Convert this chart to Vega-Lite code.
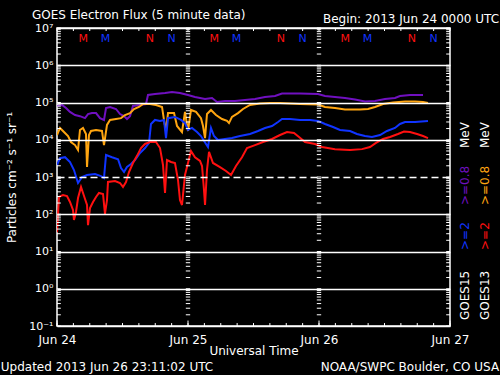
{
"$schema":"https://vega.github.io/schema/vega-lite/v6.json",
"width":393,"height":298,
"autosize":{"type":"none"},
"padding":{"left":57,"top":28,"right":50,"bottom":49},
"background":"black",
"config":{"view":{"stroke":"white","strokeWidth":1.5},"font":"DejaVu Sans"},
"datasets":{
"flux":[
{"series":"GOES15 >=0.8","hour":0,"flux":81000},{"series":"GOES15 >=0.8","hour":0.92,"flux":86000},{"series":"GOES15 >=0.8","hour":1.65,"flux":71000},{"series":"GOES15 >=0.8","hour":2.38,"flux":56000},{"series":"GOES15 >=0.8","hour":3.3,"flux":46000},{"series":"GOES15 >=0.8","hour":4.21,"flux":43000},{"series":"GOES15 >=0.8","hour":5.13,"flux":38000},{"series":"GOES15 >=0.8","hour":5.68,"flux":49000},{"series":"GOES15 >=0.8","hour":6.41,"flux":52000},{"series":"GOES15 >=0.8","hour":7.15,"flux":52000},{"series":"GOES15 >=0.8","hour":7.88,"flux":38000},{"series":"GOES15 >=0.8","hour":8.61,"flux":34000},{"series":"GOES15 >=0.8","hour":8.98,"flux":71000},{"series":"GOES15 >=0.8","hour":9.71,"flux":76000},{"series":"GOES15 >=0.8","hour":10.81,"flux":67000},{"series":"GOES15 >=0.8","hour":11.54,"flux":49000},{"series":"GOES15 >=0.8","hour":12.28,"flux":43000},{"series":"GOES15 >=0.8","hour":12.82,"flux":36000},{"series":"GOES15 >=0.8","hour":13.37,"flux":43000},{"series":"GOES15 >=0.8","hour":13.92,"flux":81000},{"series":"GOES15 >=0.8","hour":15.21,"flux":86000},{"series":"GOES15 >=0.8","hour":16.31,"flux":91000},{"series":"GOES15 >=0.8","hour":16.67,"flux":159000},{"series":"GOES15 >=0.8","hour":17.95,"flux":169000},{"series":"GOES15 >=0.8","hour":19.79,"flux":180000},{"series":"GOES15 >=0.8","hour":21.07,"flux":191000},{"series":"GOES15 >=0.8","hour":22.53,"flux":180000},{"series":"GOES15 >=0.8","hour":24.0,"flux":159000},{"series":"GOES15 >=0.8","hour":25.28,"flux":141000},{"series":"GOES15 >=0.8","hour":27.12,"flux":124000},{"series":"GOES15 >=0.8","hour":28.4,"flux":132000},{"series":"GOES15 >=0.8","hour":29.31,"flux":103000},{"series":"GOES15 >=0.8","hour":30.78,"flux":110000},{"series":"GOES15 >=0.8","hour":32.61,"flux":110000},{"series":"GOES15 >=0.8","hour":34.44,"flux":117000},{"series":"GOES15 >=0.8","hour":36.28,"flux":124000},{"series":"GOES15 >=0.8","hour":38.11,"flux":141000},{"series":"GOES15 >=0.8","hour":39.94,"flux":149000},{"series":"GOES15 >=0.8","hour":41.22,"flux":175000},{"series":"GOES15 >=0.8","hour":44.52,"flux":175000},{"series":"GOES15 >=0.8","hour":47.82,"flux":169000},{"series":"GOES15 >=0.8","hour":49.1,"flux":149000},{"series":"GOES15 >=0.8","hour":50.93,"flux":141000},{"series":"GOES15 >=0.8","hour":52.76,"flux":132000},{"series":"GOES15 >=0.8","hour":54.6,"flux":120000},{"series":"GOES15 >=0.8","hour":56.43,"flux":106000},{"series":"GOES15 >=0.8","hour":58.26,"flux":110000},{"series":"GOES15 >=0.8","hour":60.09,"flux":124000},{"series":"GOES15 >=0.8","hour":61.92,"flux":132000},{"series":"GOES15 >=0.8","hour":62.84,"flux":149000},{"series":"GOES15 >=0.8","hour":64.67,"flux":159000},{"series":"GOES15 >=0.8","hour":67.06,"flux":159000},
{"series":"GOES13 >=0.8","hour":0,"flux":13400},{"series":"GOES13 >=0.8","hour":0.55,"flux":20700},{"series":"GOES13 >=0.8","hour":1.28,"flux":16100},{"series":"GOES13 >=0.8","hour":2.02,"flux":12600},{"series":"GOES13 >=0.8","hour":2.56,"flux":8700},{"series":"GOES13 >=0.8","hour":3.3,"flux":7200},{"series":"GOES13 >=0.8","hour":3.85,"flux":5300},{"series":"GOES13 >=0.8","hour":4.21,"flux":18300},{"series":"GOES13 >=0.8","hour":4.76,"flux":20700},{"series":"GOES13 >=0.8","hour":5.31,"flux":14300},{"series":"GOES13 >=0.8","hour":5.5,"flux":1850},{"series":"GOES13 >=0.8","hour":5.86,"flux":13400},{"series":"GOES13 >=0.8","hour":6.23,"flux":17200},{"series":"GOES13 >=0.8","hour":7.15,"flux":18300},{"series":"GOES13 >=0.8","hour":8.24,"flux":17200},{"series":"GOES13 >=0.8","hour":8.61,"flux":7200},{"series":"GOES13 >=0.8","hour":9.16,"flux":25000},{"series":"GOES13 >=0.8","hour":9.71,"flux":34000},{"series":"GOES13 >=0.8","hour":10.81,"flux":36000},{"series":"GOES13 >=0.8","hour":11.73,"flux":38000},{"series":"GOES13 >=0.8","hour":12.46,"flux":46000},{"series":"GOES13 >=0.8","hour":13.37,"flux":52000},{"series":"GOES13 >=0.8","hour":14.11,"flux":67000},{"series":"GOES13 >=0.8","hour":15.02,"flux":76000},{"series":"GOES13 >=0.8","hour":15.76,"flux":91000},{"series":"GOES13 >=0.8","hour":17.04,"flux":91000},{"series":"GOES13 >=0.8","hour":18.14,"flux":86000},{"series":"GOES13 >=0.8","hour":19.24,"flux":76000},{"series":"GOES13 >=0.8","hour":19.6,"flux":34000},{"series":"GOES13 >=0.8","hour":19.97,"flux":17200},{"series":"GOES13 >=0.8","hour":20.34,"flux":52000},{"series":"GOES13 >=0.8","hour":21.44,"flux":52000},{"series":"GOES13 >=0.8","hour":21.99,"flux":23400},{"series":"GOES13 >=0.8","hour":22.9,"flux":16100},{"series":"GOES13 >=0.8","hour":23.45,"flux":56000},{"series":"GOES13 >=0.8","hour":24.0,"flux":17200},{"series":"GOES13 >=0.8","hour":24.55,"flux":63000},{"series":"GOES13 >=0.8","hour":25.47,"flux":56000},{"series":"GOES13 >=0.8","hour":26.38,"flux":38000},{"series":"GOES13 >=0.8","hour":26.75,"flux":23400},{"series":"GOES13 >=0.8","hour":27.12,"flux":11100},{"series":"GOES13 >=0.8","hour":27.48,"flux":49000},{"series":"GOES13 >=0.8","hour":28.21,"flux":63000},{"series":"GOES13 >=0.8","hour":29.13,"flux":46000},{"series":"GOES13 >=0.8","hour":30.23,"flux":36000},{"series":"GOES13 >=0.8","hour":31.15,"flux":32000},{"series":"GOES13 >=0.8","hour":31.51,"flux":28000},{"series":"GOES13 >=0.8","hour":32.06,"flux":41000},{"series":"GOES13 >=0.8","hour":33.16,"flux":52000},{"series":"GOES13 >=0.8","hour":34.08,"flux":67000},{"series":"GOES13 >=0.8","hour":35.36,"flux":86000},{"series":"GOES13 >=0.8","hour":37.19,"flux":94000},{"series":"GOES13 >=0.8","hour":39.02,"flux":97000},{"series":"GOES13 >=0.8","hour":40.86,"flux":97000},{"series":"GOES13 >=0.8","hour":44.52,"flux":91000},{"series":"GOES13 >=0.8","hour":47.82,"flux":88000},{"series":"GOES13 >=0.8","hour":49.1,"flux":76000},{"series":"GOES13 >=0.8","hour":50.93,"flux":71000},{"series":"GOES13 >=0.8","hour":52.76,"flux":65000},{"series":"GOES13 >=0.8","hour":55.51,"flux":65000},{"series":"GOES13 >=0.8","hour":56.98,"flux":67000},{"series":"GOES13 >=0.8","hour":58.26,"flux":76000},{"series":"GOES13 >=0.8","hour":59.73,"flux":91000},{"series":"GOES13 >=0.8","hour":61.56,"flux":100000},{"series":"GOES13 >=0.8","hour":63.76,"flux":106000},{"series":"GOES13 >=0.8","hour":65.59,"flux":106000},{"series":"GOES13 >=0.8","hour":67.06,"flux":103000},{"series":"GOES13 >=0.8","hour":67.97,"flux":97000},
{"series":"GOES15 >=2","hour":0,"flux":2100},{"series":"GOES15 >=2","hour":0.55,"flux":3200},{"series":"GOES15 >=2","hour":1.47,"flux":3400},{"series":"GOES15 >=2","hour":2.38,"flux":2530},{"series":"GOES15 >=2","hour":3.11,"flux":1540},{"series":"GOES15 >=2","hour":3.85,"flux":690},{"series":"GOES15 >=2","hour":4.58,"flux":1000},{"series":"GOES15 >=2","hour":5.5,"flux":1130},{"series":"GOES15 >=2","hour":6.96,"flux":1200},{"series":"GOES15 >=2","hour":8.06,"flux":1060},{"series":"GOES15 >=2","hour":8.61,"flux":940},{"series":"GOES15 >=2","hour":8.98,"flux":3900},{"series":"GOES15 >=2","hour":10.08,"flux":3400},{"series":"GOES15 >=2","hour":11.18,"flux":3000},{"series":"GOES15 >=2","hour":11.73,"flux":1740},{"series":"GOES15 >=2","hour":12.28,"flux":1360},{"series":"GOES15 >=2","hour":12.82,"flux":1850},{"series":"GOES15 >=2","hour":13.56,"flux":2230},{"series":"GOES15 >=2","hour":14.29,"flux":2860},{"series":"GOES15 >=2","hour":15.21,"flux":4400},{"series":"GOES15 >=2","hour":16.12,"flux":6000},{"series":"GOES15 >=2","hour":16.86,"flux":8200},{"series":"GOES15 >=2","hour":17.22,"flux":26500},{"series":"GOES15 >=2","hour":17.95,"flux":34000},{"series":"GOES15 >=2","hour":18.87,"flux":32000},{"series":"GOES15 >=2","hour":19.6,"flux":34000},{"series":"GOES15 >=2","hour":19.97,"flux":11100},{"series":"GOES15 >=2","hour":20.34,"flux":38000},{"series":"GOES15 >=2","hour":21.62,"flux":41000},{"series":"GOES15 >=2","hour":22.72,"flux":34000},{"series":"GOES15 >=2","hour":23.45,"flux":28000},{"series":"GOES15 >=2","hour":24.0,"flux":18300},{"series":"GOES15 >=2","hour":24.73,"flux":20700},{"series":"GOES15 >=2","hour":25.65,"flux":16100},{"series":"GOES15 >=2","hour":26.38,"flux":12600},{"series":"GOES15 >=2","hour":27.3,"flux":7700},{"series":"GOES15 >=2","hour":27.66,"flux":6400},{"series":"GOES15 >=2","hour":28.21,"flux":20700},{"series":"GOES15 >=2","hour":28.76,"flux":12600},{"series":"GOES15 >=2","hour":29.5,"flux":9800},{"series":"GOES15 >=2","hour":30.78,"flux":10500},{"series":"GOES15 >=2","hour":32.06,"flux":11100},{"series":"GOES15 >=2","hour":33.53,"flux":12600},{"series":"GOES15 >=2","hour":35.36,"flux":14300},{"series":"GOES15 >=2","hour":36.83,"flux":17200},{"series":"GOES15 >=2","hour":38.11,"flux":20700},{"series":"GOES15 >=2","hour":39.39,"flux":23400},{"series":"GOES15 >=2","hour":40.49,"flux":30000},{"series":"GOES15 >=2","hour":41.22,"flux":36000},{"series":"GOES15 >=2","hour":42.69,"flux":36000},{"series":"GOES15 >=2","hour":44.52,"flux":34000},{"series":"GOES15 >=2","hour":46.35,"flux":34000},{"series":"GOES15 >=2","hour":47.82,"flux":32000},{"series":"GOES15 >=2","hour":49.1,"flux":26500},{"series":"GOES15 >=2","hour":50.57,"flux":22000},{"series":"GOES15 >=2","hour":51.85,"flux":18300},{"series":"GOES15 >=2","hour":53.68,"flux":17200},{"series":"GOES15 >=2","hour":54.96,"flux":14300},{"series":"GOES15 >=2","hour":56.43,"flux":12600},{"series":"GOES15 >=2","hour":57.71,"flux":11900},{"series":"GOES15 >=2","hour":59.18,"flux":13400},{"series":"GOES15 >=2","hour":60.46,"flux":17200},{"series":"GOES15 >=2","hour":61.92,"flux":20700},{"series":"GOES15 >=2","hour":62.84,"flux":26500},{"series":"GOES15 >=2","hour":63.76,"flux":30000},{"series":"GOES15 >=2","hour":65.59,"flux":30000},{"series":"GOES15 >=2","hour":67.97,"flux":32000},
{"series":"GOES13 >=2","hour":0,"flux":33},{"series":"GOES13 >=2","hour":0.18,"flux":95},{"series":"GOES13 >=2","hour":0.37,"flux":291},{"series":"GOES13 >=2","hour":1.1,"flux":329},{"series":"GOES13 >=2","hour":1.83,"flux":309},{"series":"GOES13 >=2","hour":2.38,"flux":213},{"series":"GOES13 >=2","hour":2.93,"flux":130},{"series":"GOES13 >=2","hour":3.11,"flux":70},{"series":"GOES13 >=2","hour":3.48,"flux":115},{"series":"GOES13 >=2","hour":3.85,"flux":273},{"series":"GOES13 >=2","hour":4.4,"flux":540},{"series":"GOES13 >=2","hour":4.95,"flux":309},{"series":"GOES13 >=2","hour":5.5,"flux":177},{"series":"GOES13 >=2","hour":5.68,"flux":51},{"series":"GOES13 >=2","hour":6.05,"flux":147},{"series":"GOES13 >=2","hour":6.6,"flux":213},{"series":"GOES13 >=2","hour":7.15,"flux":291},{"series":"GOES13 >=2","hour":7.69,"flux":372},{"series":"GOES13 >=2","hour":8.43,"flux":350},{"series":"GOES13 >=2","hour":8.79,"flux":102},{"series":"GOES13 >=2","hour":9.16,"flux":241},{"series":"GOES13 >=2","hour":9.34,"flux":735},{"series":"GOES13 >=2","hour":10.63,"flux":780},{"series":"GOES13 >=2","hour":11.54,"flux":690},{"series":"GOES13 >=2","hour":12.09,"flux":540},{"series":"GOES13 >=2","hour":12.64,"flux":735},{"series":"GOES13 >=2","hour":13.19,"flux":1360},{"series":"GOES13 >=2","hour":13.92,"flux":2380},{"series":"GOES13 >=2","hour":14.66,"flux":3700},{"series":"GOES13 >=2","hour":15.39,"flux":6000},{"series":"GOES13 >=2","hour":16.12,"flux":7700},{"series":"GOES13 >=2","hour":17.04,"flux":8700},{"series":"GOES13 >=2","hour":18.14,"flux":8700},{"series":"GOES13 >=2","hour":18.87,"flux":6000},{"series":"GOES13 >=2","hour":19.42,"flux":2100},{"series":"GOES13 >=2","hour":19.79,"flux":372},{"series":"GOES13 >=2","hour":20.15,"flux":2860},{"series":"GOES13 >=2","hour":20.89,"flux":2530},{"series":"GOES13 >=2","hour":21.62,"flux":2380},{"series":"GOES13 >=2","hour":22.17,"flux":830},{"series":"GOES13 >=2","hour":22.53,"flux":241},{"series":"GOES13 >=2","hour":22.9,"flux":177},{"series":"GOES13 >=2","hour":23.45,"flux":1130},{"series":"GOES13 >=2","hour":24.0,"flux":2380},{"series":"GOES13 >=2","hour":24.55,"flux":5000},{"series":"GOES13 >=2","hour":25.28,"flux":3400},{"series":"GOES13 >=2","hour":26.2,"flux":2690},{"series":"GOES13 >=2","hour":26.57,"flux":1970},{"series":"GOES13 >=2","hour":26.93,"flux":448},{"series":"GOES13 >=2","hour":27.12,"flux":177},{"series":"GOES13 >=2","hour":27.48,"flux":1540},{"series":"GOES13 >=2","hour":27.85,"flux":4700},{"series":"GOES13 >=2","hour":28.58,"flux":2380},{"series":"GOES13 >=2","hour":29.86,"flux":1850},{"series":"GOES13 >=2","hour":30.96,"flux":1450},{"series":"GOES13 >=2","hour":31.88,"flux":1130},{"series":"GOES13 >=2","hour":32.79,"flux":1970},{"series":"GOES13 >=2","hour":33.89,"flux":3400},{"series":"GOES13 >=2","hour":34.81,"flux":6000},{"series":"GOES13 >=2","hour":36.28,"flux":7200},{"series":"GOES13 >=2","hour":37.74,"flux":8700},{"series":"GOES13 >=2","hour":39.39,"flux":10500},{"series":"GOES13 >=2","hour":40.86,"flux":13400},{"series":"GOES13 >=2","hour":42.14,"flux":16100},{"series":"GOES13 >=2","hour":43.42,"flux":15200},{"series":"GOES13 >=2","hour":44.34,"flux":11900},{"series":"GOES13 >=2","hour":45.44,"flux":8700},{"series":"GOES13 >=2","hour":47.27,"flux":7700},{"series":"GOES13 >=2","hour":48.55,"flux":6400},{"series":"GOES13 >=2","hour":50.93,"flux":5600},{"series":"GOES13 >=2","hour":53.68,"flux":5300},{"series":"GOES13 >=2","hour":55.88,"flux":5600},{"series":"GOES13 >=2","hour":57.34,"flux":6400},{"series":"GOES13 >=2","hour":58.44,"flux":8200},{"series":"GOES13 >=2","hour":59.73,"flux":10500},{"series":"GOES13 >=2","hour":61.01,"flux":11900},{"series":"GOES13 >=2","hour":62.47,"flux":14300},{"series":"GOES13 >=2","hour":63.57,"flux":16600},{"series":"GOES13 >=2","hour":64.67,"flux":16100},{"series":"GOES13 >=2","hour":65.96,"flux":14300},{"series":"GOES13 >=2","hour":67.06,"flux":12600},{"series":"GOES13 >=2","hour":67.97,"flux":11100}
],
"mn":[
{"sat":"GOES13","hour":4.8,"mark":"M"},{"sat":"GOES15","hour":8.9,"mark":"M"},{"sat":"GOES13","hour":17.0,"mark":"N"},{"sat":"GOES15","hour":21.0,"mark":"N"},
{"sat":"GOES13","hour":28.8,"mark":"M"},{"sat":"GOES15","hour":32.9,"mark":"M"},{"sat":"GOES13","hour":41.0,"mark":"N"},{"sat":"GOES15","hour":45.0,"mark":"N"},
{"sat":"GOES13","hour":52.8,"mark":"M"},{"sat":"GOES15","hour":56.9,"mark":"M"},{"sat":"GOES13","hour":65.0,"mark":"N"},{"sat":"GOES15","hour":69.0,"mark":"N"}
],
"minor":[
{"v":0.1},{"v":0.2},{"v":0.3},{"v":0.4},{"v":0.5},{"v":0.6},{"v":0.7},{"v":0.8},{"v":0.9},
{"v":1},{"v":2},{"v":3},{"v":4},{"v":5},{"v":6},{"v":7},{"v":8},{"v":9},
{"v":10},{"v":20},{"v":30},{"v":40},{"v":50},{"v":60},{"v":70},{"v":80},{"v":90},
{"v":100},{"v":200},{"v":300},{"v":400},{"v":500},{"v":600},{"v":700},{"v":800},{"v":900},
{"v":1000},{"v":2000},{"v":3000},{"v":4000},{"v":5000},{"v":6000},{"v":7000},{"v":8000},{"v":9000},
{"v":10000},{"v":20000},{"v":30000},{"v":40000},{"v":50000},{"v":60000},{"v":70000},{"v":80000},{"v":90000},
{"v":100000},{"v":200000},{"v":300000},{"v":400000},{"v":500000},{"v":600000},{"v":700000},{"v":800000},{"v":900000},
{"v":1000000},{"v":2000000},{"v":3000000},{"v":4000000},{"v":5000000},{"v":6000000},{"v":7000000},{"v":8000000},{"v":9000000},{"v":10000000}
],
"hours3":[{"h":0},{"h":3},{"h":6},{"h":9},{"h":12},{"h":15},{"h":18},{"h":21},{"h":24},{"h":27},{"h":30},{"h":33},{"h":36},{"h":39},{"h":42},{"h":45},{"h":48},{"h":51},{"h":54},{"h":57},{"h":60},{"h":63},{"h":66},{"h":69},{"h":72}]
},
"layer":[
{"data":{"name":"flux"},
 "mark":{"type":"line","strokeWidth":2,"clip":true},
 "encoding":{
  "x":{"field":"hour","type":"quantitative","scale":{"domain":[0,72],"nice":false,"zero":false},
   "axis":{"values":[0,24,48,72],"labelExpr":"['Jun 24','Jun 25','Jun 26','Jun 27'][round(datum.value/24)]","ticks":false,"domain":false,"grid":false,"labelColor":"white","labelFont":"DejaVu Sans","labelFontSize":12,"labelPadding":8,"labelFlush":false,"title":"Universal Time","titleColor":"white","titleFont":"DejaVu Sans","titleFontSize":12,"titleFontWeight":"normal","titlePadding":0}},
  "y":{"field":"flux","type":"quantitative","scale":{"type":"log","domain":[0.1,10000000],"nice":false},
   "axis":{"values":[0.1,1,10,100,1000,10000,100000,1000000,10000000],"labelExpr":"['10⁻¹','10⁰','10¹','10²','10³','10⁴','10⁵','10⁶','10⁷'][round(log(datum.value)/LN10)+1]","ticks":false,"domain":false,"grid":true,"gridColor":"white","gridWidth":1.5,"gridOpacity":1,"gridDash":{"condition":{"test":"datum.value == 1000","value":[7,4]},"value":[]},"zindex":1,"labelColor":"white","labelFont":"DejaVu Sans","labelFontSize":11,"labelPadding":4,"labelFlush":false,"labelOverlap":false,"title":"Particles cm⁻² s⁻¹ sr⁻¹","titleColor":"white","titleFont":"DejaVu Sans","titleFontSize":12,"titleFontWeight":"normal","titlePadding":10}},
  "color":{"field":"series","type":"nominal","scale":{"domain":["GOES15 >=0.8","GOES13 >=0.8","GOES15 >=2","GOES13 >=2"],"range":["#7010c0","#ffa510","#1034ff","#ff1010"]},"legend":null}
 }},
{"data":{"name":"minor"},"mark":{"type":"rule","color":"white","strokeWidth":1},
 "encoding":{"y":{"field":"v","type":"quantitative"},"x":{"datum":0},"x2":{"datum":0.7}}},
{"data":{"name":"minor"},"mark":{"type":"rule","color":"white","strokeWidth":1},
 "encoding":{"y":{"field":"v","type":"quantitative"},"x":{"datum":71.3},"x2":{"datum":72}}},
{"data":{"name":"minor"},"mark":{"type":"rule","color":"white","strokeWidth":1},
 "encoding":{"y":{"field":"v","type":"quantitative"},"x":{"datum":23.6},"x2":{"datum":24.4}}},
{"data":{"name":"minor"},"mark":{"type":"rule","color":"white","strokeWidth":1},
 "encoding":{"y":{"field":"v","type":"quantitative"},"x":{"datum":47.6},"x2":{"datum":48.4}}},
{"data":{"name":"hours3"},"mark":{"type":"rule","color":"white","strokeWidth":1},
 "encoding":{"x":{"field":"h","type":"quantitative"},"y":{"datum":0.1},"y2":{"datum":0.12}}},
{"data":{"name":"hours3"},"transform":[{"filter":"datum.h % 24 == 0"}],"mark":{"type":"rule","color":"white","strokeWidth":1},
 "encoding":{"x":{"field":"h","type":"quantitative"},"y":{"datum":0.1},"y2":{"datum":0.14}}},
{"data":{"name":"hours3"},"mark":{"type":"rule","color":"white","strokeWidth":1},
 "encoding":{"x":{"field":"h","type":"quantitative"},"y":{"datum":10000000},"y2":{"datum":8300000}}},
{"data":{"name":"mn"},"transform":[{"filter":"datum.sat == 'GOES13'"}],"mark":{"type":"text","color":"#ff1010","fontSize":11,"baseline":"middle","align":"center"},
 "encoding":{"x":{"field":"hour","type":"quantitative"},"y":{"datum":5000000},"text":{"field":"mark"}}},
{"data":{"name":"mn"},"transform":[{"filter":"datum.sat == 'GOES15'"}],"mark":{"type":"text","color":"#1034ff","fontSize":11,"baseline":"middle","align":"center"},
 "encoding":{"x":{"field":"hour","type":"quantitative"},"y":{"datum":5000000},"text":{"field":"mark"}}},
{"data":{"values":[{"t":"GOES Electron Flux (5 minute data)"}]},"mark":{"type":"text","color":"white","fontSize":12,"align":"left","baseline":"middle"},
 "encoding":{"x":{"datum":-4.6},"y":{"datum":22300000},"text":{"field":"t"}}},
{"data":{"values":[{"t":"Begin: 2013 Jun 24 0000 UTC"}]},"mark":{"type":"text","color":"white","fontSize":12,"align":"right","baseline":"middle"},
 "encoding":{"x":{"datum":81.0},"y":{"datum":17400000},"text":{"field":"t"}}},
{"data":{"values":[{"t":"Updated 2013 Jun 26 23:11:02 UTC"}]},"mark":{"type":"text","color":"white","fontSize":12,"align":"left","baseline":"middle"},
 "encoding":{"x":{"datum":-10.3},"y":{"datum":0.0079},"text":{"field":"t"}}},
{"data":{"values":[{"t":"NOAA/SWPC Boulder, CO USA"}]},"mark":{"type":"text","color":"white","fontSize":12,"align":"right","baseline":"middle"},
 "encoding":{"x":{"datum":81.0},"y":{"datum":0.0079},"text":{"field":"t"}}},
{"data":{"values":[{"t":"GOES15"}]},"mark":{"type":"text","color":"white","fontSize":12,"angle":270,"align":"left","baseline":"middle"},
 "encoding":{"x":{"datum":74.75},"y":{"datum":0.145},"text":{"field":"t"}}},
{"data":{"values":[{"t":">=2"}]},"mark":{"type":"text","color":"#1034ff","fontSize":12,"angle":270,"align":"left","baseline":"middle"},
 "encoding":{"x":{"datum":74.75},"y":{"datum":11},"text":{"field":"t"}}},
{"data":{"values":[{"t":">=0.8"}]},"mark":{"type":"text","color":"#7010c0","fontSize":12,"angle":270,"align":"left","baseline":"middle"},
 "encoding":{"x":{"datum":74.75},"y":{"datum":177},"text":{"field":"t"}}},
{"data":{"values":[{"t":"MeV"}]},"mark":{"type":"text","color":"white","fontSize":12,"angle":270,"align":"left","baseline":"middle"},
 "encoding":{"x":{"datum":74.75},"y":{"datum":6000},"text":{"field":"t"}}},
{"data":{"values":[{"t":"GOES13"}]},"mark":{"type":"text","color":"white","fontSize":12,"angle":270,"align":"left","baseline":"middle"},
 "encoding":{"x":{"datum":78.41},"y":{"datum":0.145},"text":{"field":"t"}}},
{"data":{"values":[{"t":">=2"}]},"mark":{"type":"text","color":"#ff1010","fontSize":12,"angle":270,"align":"left","baseline":"middle"},
 "encoding":{"x":{"datum":78.41},"y":{"datum":11},"text":{"field":"t"}}},
{"data":{"values":[{"t":">=0.8"}]},"mark":{"type":"text","color":"#ffa510","fontSize":12,"angle":270,"align":"left","baseline":"middle"},
 "encoding":{"x":{"datum":78.41},"y":{"datum":177},"text":{"field":"t"}}},
{"data":{"values":[{"t":"MeV"}]},"mark":{"type":"text","color":"white","fontSize":12,"angle":270,"align":"left","baseline":"middle"},
 "encoding":{"x":{"datum":78.41},"y":{"datum":6000},"text":{"field":"t"}}}
]
}
